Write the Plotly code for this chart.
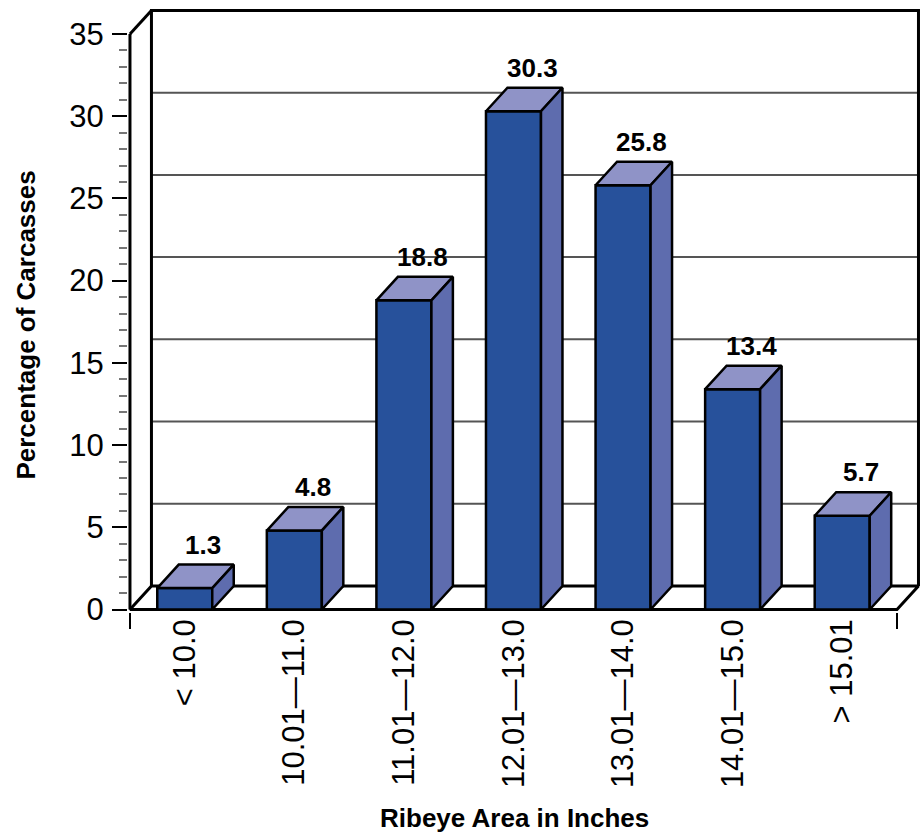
import plotly.graph_objects as go

# Distribution of ribeye area across carcasses
categories = ["< 10.0", "10.01\u201411.0", "11.01\u201412.0", "12.01\u201413.0",
              "13.01\u201414.0", "14.01\u201415.0", "> 15.01"]
percentages = [1.3, 4.8, 18.8, 30.3, 25.8, 13.4, 5.7]
y_ticks = [0, 5, 10, 15, 20, 25, 30, 35]
y_max = 35

# pseudo-3D depth offset, expressed in axis units
DX = 0.196
DY = 1.43
HALF_W = 0.251

FRONT = "#27519b"
TOP = "#8f93c7"
SIDE = "#5e6cae"
EDGE = "black"
GRID = "#555555"
FONT = "Liberation Sans, Arial, sans-serif"

n = len(categories)
x_lo, x_hi = -0.5, n - 0.5

fig = go.Figure()


def line(xs, ys, color=EDGE, width=3):
    fig.add_trace(go.Scatter(x=xs, y=ys, mode="lines", hoverinfo="skip",
                             line=dict(color=color, width=width), showlegend=False))


def face(xs, ys, color):
    fig.add_trace(go.Scatter(x=xs + [xs[0]], y=ys + [ys[0]], mode="lines",
                             fill="toself", fillcolor=color, hoverinfo="skip",
                             line=dict(color=EDGE, width=2.5), showlegend=False))


# back wall gridlines
for t in y_ticks[1:-1]:
    line([x_lo + DX, x_hi + DX], [t + DY, t + DY], color=GRID, width=2)

# back wall frame
line([x_lo + DX, x_lo + DX, x_hi + DX, x_hi + DX],
     [DY, y_max + DY, y_max + DY, DY])
# side wall
line([x_lo, x_lo + DX], [y_max, y_max + DY])
line([x_lo, x_lo], [0, y_max])
# floor
line([x_lo + DX, x_lo, x_hi, x_hi + DX, x_lo + DX], [DY, 0, 0, DY, DY])

# bars
for i, v in enumerate(percentages):
    l, r = i - HALF_W, i + HALF_W
    face([l, r, r, l], [0, 0, v, v], FRONT)
    face([l, r, r + DX, l + DX], [v, v, v + DY, v + DY], TOP)
    face([r, r + DX, r + DX, r], [0, DY, v + DY, v], SIDE)

annotations = []
for i, v in enumerate(percentages):
    annotations.append(dict(x=i + 0.17, y=v + DY, xref="x", yref="y",
                            text=f"<b>{v:.1f}</b>", showarrow=False,
                            xanchor="center", yanchor="bottom", yshift=3,
                            font=dict(size=26, color="black", family=FONT)))

annotations.append(dict(x=-0.128, y=0.475, xref="paper", yref="paper",
                        text="<b>Percentage of Carcasses</b>", showarrow=False,
                        textangle=-90, xanchor="center", yanchor="middle",
                        font=dict(size=26, color="black", family=FONT)))
annotations.append(dict(x=0.488, y=-0.341, xref="paper", yref="paper",
                        text="<b>Ribeye Area in Inches</b>", showarrow=False,
                        xanchor="center", yanchor="middle",
                        font=dict(size=26, color="black", family=FONT)))

minor_y = [k for k in range(1, y_max) if k % 5 != 0]

fig.update_layout(
    width=922, height=838,
    margin=dict(l=128, r=1, t=8, b=226),
    paper_bgcolor="white", plot_bgcolor="white",
    font=dict(family=FONT, color="black"),
    annotations=annotations,
    xaxis=dict(range=[-0.518, 6.719], showgrid=False, zeroline=False,
               showline=False, tickmode="array",
               tickvals=list(range(n)), ticktext=categories,
               tickangle=-90, ticks="", tickfont=dict(size=31),
               minor=dict(tickmode="array", tickvals=[x_lo, x_hi],
                          ticks="outside", ticklen=16, tickwidth=2,
                          tickcolor="black", showgrid=False)),
    yaxis=dict(range=[-0.152, 36.58], showgrid=False, zeroline=False,
               showline=False, tickmode="array", tickvals=y_ticks,
               ticks="outside", ticklen=15, tickwidth=2, tickcolor="black",
               tickfont=dict(size=31), ticklabelstandoff=2,
               minor=dict(tickmode="array", tickvals=minor_y,
                          ticks="outside", ticklen=8, tickwidth=2,
                          tickcolor="#777777", showgrid=False)),
)

fig.write_html("out.html")
